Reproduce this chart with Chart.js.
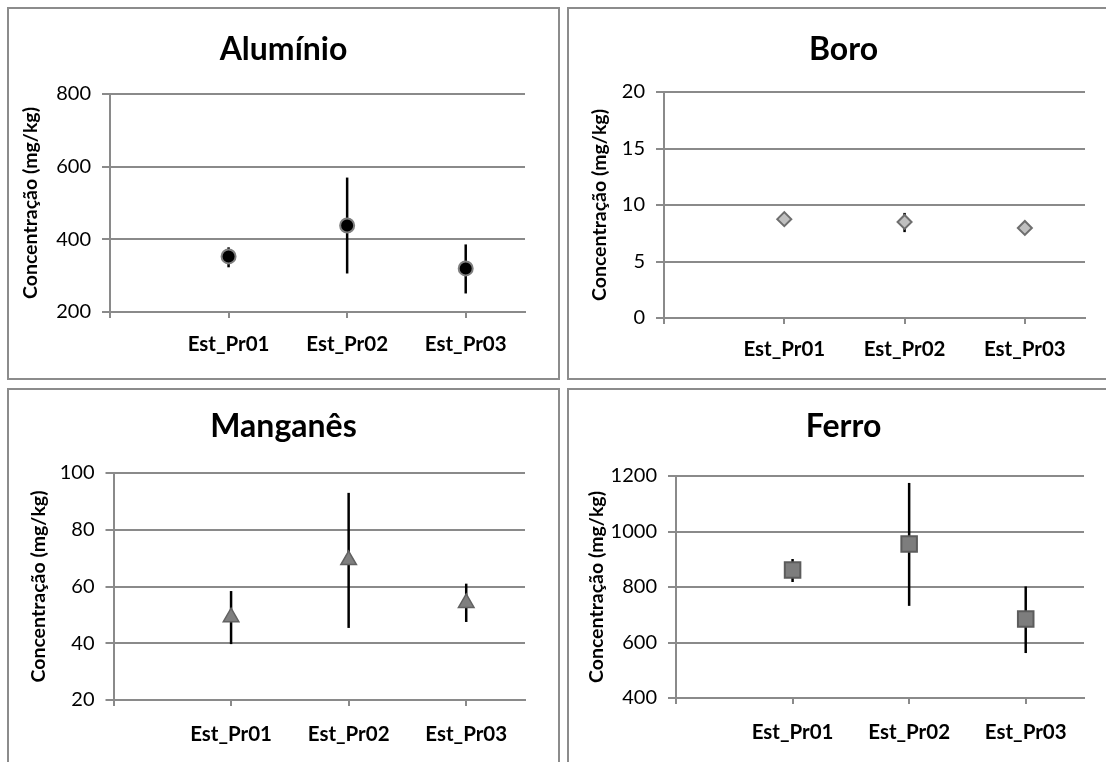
<!DOCTYPE html>
<html>
<head>
<meta charset="utf-8">
<script src="https://cdn.jsdelivr.net/npm/chart.js@4.4.1/dist/chart.umd.min.js"></script>
<style>
  html, body { margin: 0; padding: 0; background: #fff; overflow: hidden; width: 1106px; height: 762px; }
  .panel { position: absolute; box-sizing: border-box; border: 2px solid #8c8c8c; background: #fff; overflow: hidden; }
  canvas { display: block; }
</style>
</head>
<body>
<div class="panel" style="left:7px;top:7px;width:553px;height:373px;"><canvas id="c1" width="549" height="369"></canvas></div>
<div class="panel" style="left:567px;top:7px;width:553px;height:373px;"><canvas id="c2" width="549" height="369"></canvas></div>
<div class="panel" style="left:7px;top:388px;width:553px;height:380px;"><canvas id="c3" width="549" height="376"></canvas></div>
<div class="panel" style="left:567px;top:388px;width:553px;height:380px;"><canvas id="c4" width="549" height="376"></canvas></div>
<script>
// ---- Data ----
const categories = ['Est_Pr01', 'Est_Pr02', 'Est_Pr03'];

const aluminioMean = [353, 438, 320];
const aluminioLow  = [323, 306, 251];
const aluminioHigh = [378, 570, 386];
const aluminioTicks = [200, 400, 600, 800];

const boroMean = [8.75, 8.5, 7.97];
const boroLow  = [8.6, 7.6, 7.8];
const boroHigh = [8.9, 9.3, 8.1];
const boroTicks = [0, 5, 10, 15, 20];

const manganesMean = [49.2, 69.3, 54.2];
const manganesLow  = [39.7, 45.4, 47.5];
const manganesHigh = [58.4, 93, 61];
const manganesTicks = [20, 40, 60, 80, 100];

const ferroMean = [861, 955, 685];
const ferroLow  = [818, 732, 562];
const ferroHigh = [901, 1175, 802];
const ferroTicks = [400, 600, 800, 1000, 1200];

const yTitle = 'Concentração (mg/kg)';
const GRID = '#8a8a8a';
const FONT = 'Lato, "Open Sans", sans-serif';
const TITLE_SIZE = 32, YT_SIZE = 19.5, XL_SIZE = 20.5, TICK_SIZE = 20;

const errorBarPlugin = {
  id: 'errorBars',
  beforeDatasetsDraw(chart, args, opts) {
    const xs = chart.scales.x, ys = chart.scales.y, ctx = chart.ctx;
    ctx.save();
    ctx.strokeStyle = '#000';
    ctx.lineWidth = opts.width || 2.5;
    opts.low.forEach((lo, i) => {
      const x = xs.getPixelForValue(i + 1);
      ctx.beginPath();
      ctx.moveTo(x, ys.getPixelForValue(lo));
      ctx.lineTo(x, ys.getPixelForValue(opts.high[i]));
      ctx.stroke();
    });
    ctx.restore();
  }
};

function makeChart(id, cfg) {
  const ticks = cfg.ticks;
  const canvasW = 549;
  const pad = canvasW - cfg.plotRight; // symmetric padding so the title centres on the panel
  new Chart(document.getElementById(id), {
    type: 'scatter',
    data: {
      datasets: [{
        data: cfg.mean.map((v, i) => ({ x: i + 1, y: v })),
        pointStyle: cfg.style,
        pointRadius: cfg.radius,
        pointHoverRadius: cfg.radius,
        backgroundColor: cfg.fill,
        borderColor: cfg.stroke,
        pointBorderWidth: cfg.bw,
        showLine: false
      }]
    },
    options: {
      responsive: false,
      animation: false,
      events: [],
      layout: { padding: { left: pad, right: pad, top: 0, bottom: 0 } },
      plugins: {
        legend: { display: false },
        tooltip: { enabled: false },
        title: {
          display: true,
          text: cfg.title,
          color: '#000',
          font: { family: FONT, size: TITLE_SIZE, weight: 'bold' },
          padding: { top: cfg.titleTop, bottom: cfg.plotTop - cfg.titleTop - TITLE_SIZE * 1.2 }
        },
        errorBars: { low: cfg.low, high: cfg.high, width: 2.5 }
      },
      scales: {
        x: {
          type: 'linear',
          min: 0,
          max: 3.5,
          afterBuildTicks(s) { s.ticks = [0, 1, 2, 3].map(v => ({ value: v })); },
          afterFit(s) { s.height = cfg.canvasH - cfg.plotBottom; },
          grid: { drawOnChartArea: false, drawTicks: true, tickLength: 6, color: GRID, lineWidth: 2 },
          border: { display: true, color: GRID, width: 2 },
          ticks: {
            autoSkip: false,
            maxRotation: 0,
            padding: cfg.xPad,
            color: '#000',
            font: { family: FONT, size: XL_SIZE, weight: 'bold' },
            callback: v => (v >= 1 && v <= 3 ? categories[v - 1] : '')
          }
        },
        y: {
          min: ticks[0],
          max: ticks[ticks.length - 1],
          afterBuildTicks(s) { s.ticks = ticks.map(v => ({ value: v })); },
          afterFit(s) { s.width = cfg.plotLeft - pad; },
          grid: { color: GRID, lineWidth: 2, tickLength: 8, drawTicks: true },
          border: { display: true, color: GRID, width: 2 },
          ticks: { padding: 11, color: '#000', font: { family: FONT, size: TICK_SIZE }, callback: v => String(v) },
          title: {
            display: true,
            text: yTitle,
            color: '#000',
            font: { family: FONT, size: YT_SIZE, weight: 'bold' },
            padding: { top: cfg.yTitleX - pad - YT_SIZE * 0.6, bottom: 0 }
          }
        }
      }
    },
    plugins: [errorBarPlugin]
  });
}

makeChart('c1', {
  title: 'Alumínio', mean: aluminioMean, low: aluminioLow, high: aluminioHigh, ticks: aluminioTicks,
  style: 'circle', radius: 7, fill: '#000', stroke: '#7f7f7f', bw: 2,
  canvasH: 369, plotLeft: 101, plotRight: 516, plotTop: 85, plotBottom: 303, titleTop: 21.5, xPad: 14, yTitleX: 22
});
makeChart('c2', {
  title: 'Boro', mean: boroMean, low: boroLow, high: boroHigh, ticks: boroTicks,
  style: 'rectRot', radius: 7, fill: '#c0c0c0', stroke: '#6e6e6e', bw: 2,
  canvasH: 369, plotLeft: 95, plotRight: 516, plotTop: 83, plotBottom: 309, titleTop: 21.5, xPad: 13, yTitleX: 31
});
makeChart('c3', {
  title: 'Manganês', mean: manganesMean, low: manganesLow, high: manganesHigh, ticks: manganesTicks,
  style: 'triangle', radius: 9, fill: '#7f7f7f', stroke: '#626262', bw: 1.5,
  canvasH: 376, plotLeft: 104.5, plotRight: 516, plotTop: 83, plotBottom: 310, titleTop: 17.5, xPad: 16, yTitleX: 30
});
makeChart('c4', {
  title: 'Ferro', mean: ferroMean, low: ferroLow, high: ferroHigh, ticks: ferroTicks,
  style: 'rect', radius: 11, fill: '#7d7d7d', stroke: '#5c5c5c', bw: 2,
  canvasH: 376, plotLeft: 107, plotRight: 515, plotTop: 86, plotBottom: 308, titleTop: 17.5, xPad: 16, yTitleX: 28
});
</script>
</body>
</html>
